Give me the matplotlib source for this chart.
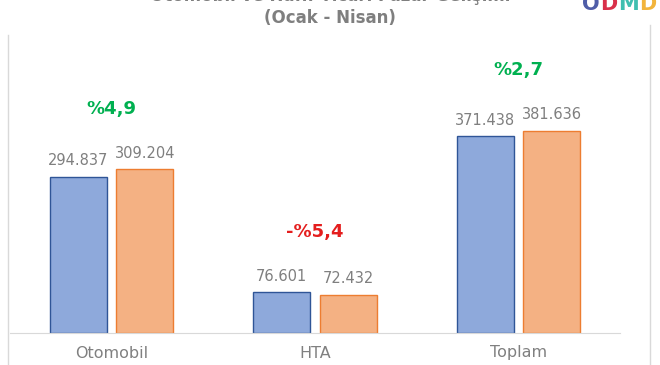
import matplotlib.pyplot as plt
from matplotlib.lines import Line2D
import numpy as np

# data
categories = ['Otomobil', 'HTA', 'Toplam']
prev_year = [294837, 76601, 371438]
curr_year = [309204, 72432, 381636]
change_labels = ['%4,9', '-%5,4', '%2,7']
change_colors = ['#00B050', '#E41E1E', '#00B050']

def fmt(v):
    return '{:,}'.format(v).replace(',', '.')

fig = plt.figure(figsize=(6.6, 3.65), dpi=100)
ax = fig.add_axes([10/660, 32/365, 610/660, 273/365])

x = np.arange(len(categories))
w = 0.28
off = 0.163
b1 = ax.bar(x - off, prev_year, w, color='#8EA9DB', edgecolor='#2F5597', linewidth=1.0)
b2 = ax.bar(x + off, curr_year, w, color='#F4B183', edgecolor='#ED7D31', linewidth=1.0)

for rect, v in zip(b1, prev_year):
    ax.annotate(fmt(v), (rect.get_x() + rect.get_width()/2, v), xytext=(0, 6),
                textcoords='offset points', ha='center', va='bottom',
                fontsize=10.5, color='#7F7F7F')
for rect, v in zip(b2, curr_year):
    ax.annotate(fmt(v), (rect.get_x() + rect.get_width()/2, v), xytext=(0, 6),
                textcoords='offset points', ha='center', va='bottom',
                fontsize=10.5, color='#7F7F7F')

for i, (lab, c) in enumerate(zip(change_labels, change_colors)):
    top = max(prev_year[i], curr_year[i])
    ax.annotate(lab, (x[i], top), xytext=(0, 37), textcoords='offset points',
                ha='center', va='bottom', fontsize=13, fontweight='bold', color=c)

ax.set_xlim(-0.5, 2.5)
ax.set_ylim(0, 515000)
ax.set_xticks(x)
ax.set_xticklabels(categories, fontsize=11.5, color='#808080')
ax.tick_params(axis='x', length=0, pad=9)
ax.set_yticks([])
for s in ['top', 'right', 'left']:
    ax.spines[s].set_visible(False)
ax.spines['bottom'].set_color('#D9D9D9')

# title (top line cut off by the image edge)
fig.text(0.5, 1.0 + 4/365, 'Otomobil ve Hafif Ticari Pazar Gelişimi', ha='center', va='center',
         fontsize=12, fontweight='bold', color='#7F7F7F')
fig.text(0.5, 1 - 18/365, '(Ocak - Nisan)', ha='center', va='center',
         fontsize=12, fontweight='bold', color='#7F7F7F')

# logo letters, placed side by side
logo = [('O', '#4F5DA8'), ('D', '#D9304A'), ('M', '#3FBFB0'), ('D', '#F2B43C')]
renderer = fig.canvas.get_renderer()
lx = 582
for ch, c in logo:
    t = fig.text(lx/660, 1 - 4/365, ch, ha='left', va='center', fontsize=15,
                 fontweight='bold', color=c)
    lx += t.get_window_extent(renderer).width + 0.5

# frame lines
fig.add_artist(Line2D([8/660, 8/660], [0, 1 - 35/365], color='#D9D9D9', lw=1))
fig.add_artist(Line2D([650/660, 650/660], [0, 1 - 25/365], color='#D9D9D9', lw=1))

fig.savefig('out.png', dpi=100, facecolor='white')
